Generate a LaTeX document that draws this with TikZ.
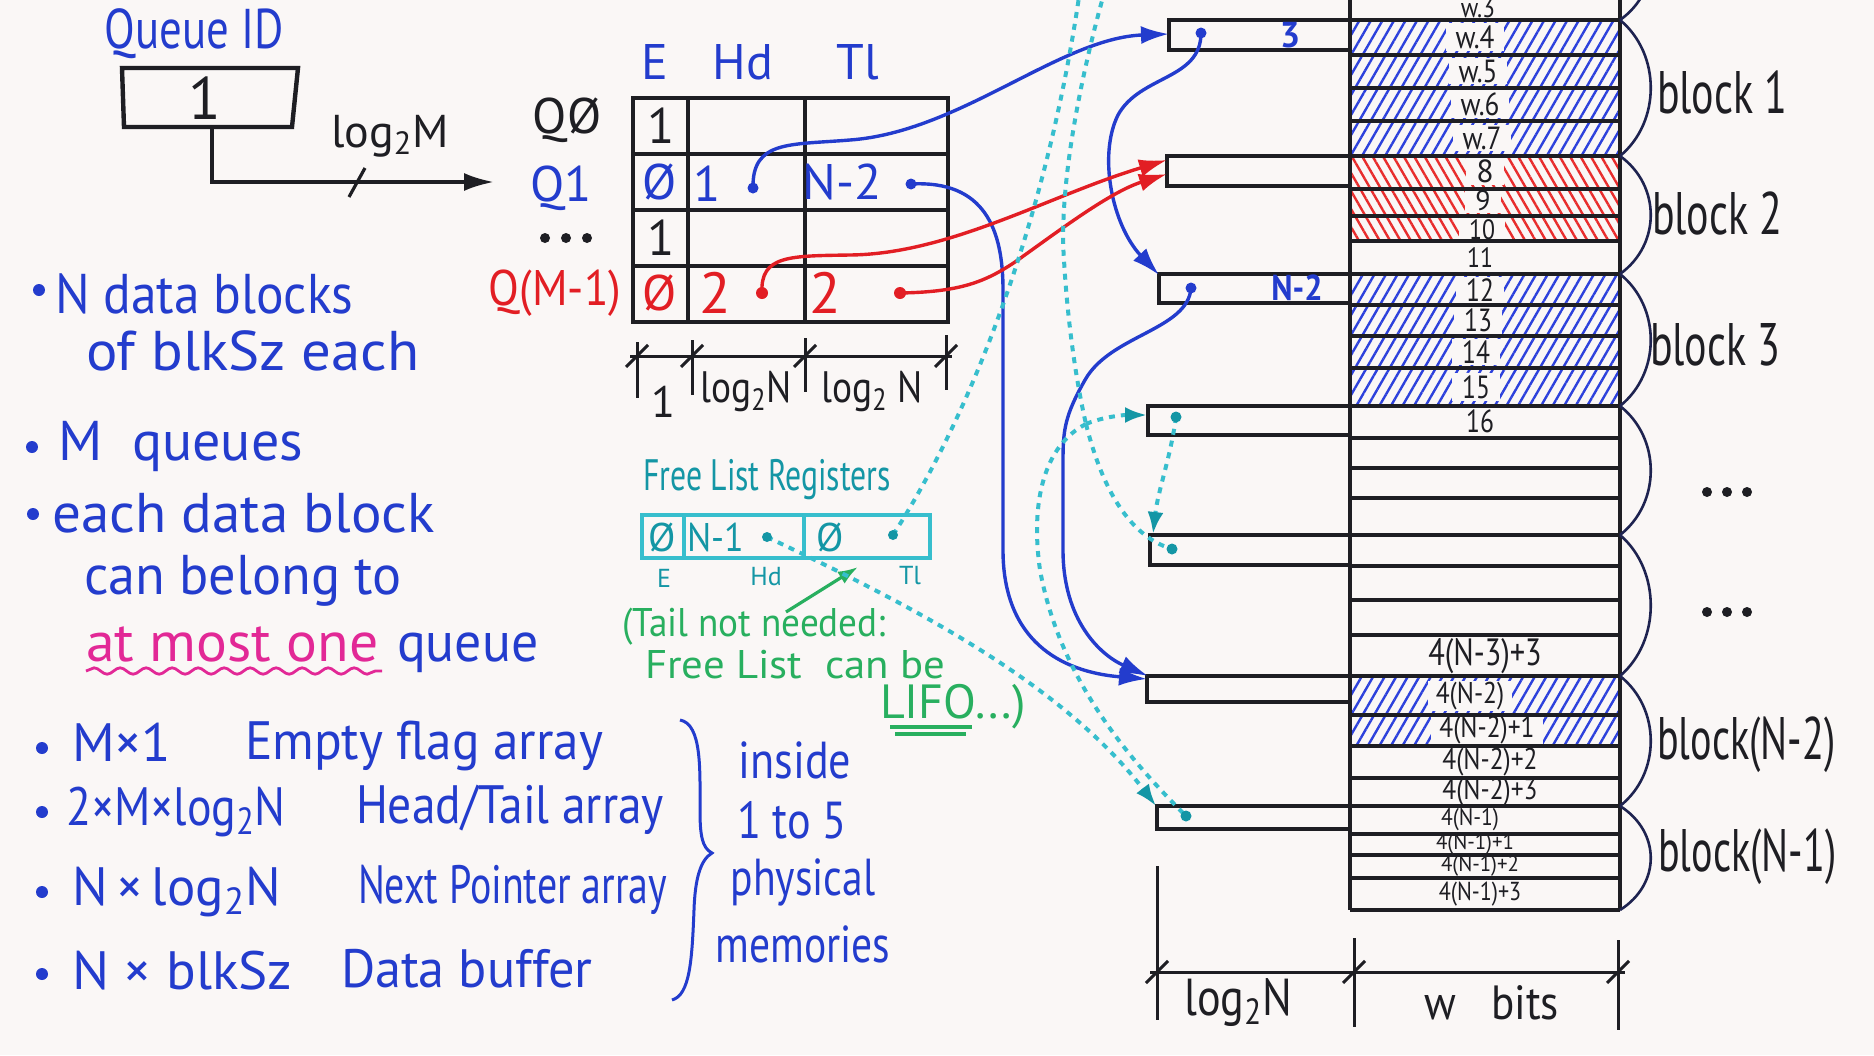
\documentclass[tikz,border=0pt]{standalone}
\usepackage{fontspec}
\setmainfont{PT Sans}
\usepackage{graphicx}
\usetikzlibrary{arrows.meta,patterns.meta,decorations.pathmorphing}
\definecolor{bgc}{RGB}{250,247,246}
\definecolor{qblue}{RGB}{35,60,205}
\definecolor{qred}{RGB}{226,30,36}
\definecolor{qpink}{RGB}{226,40,150}
\definecolor{qcyan}{RGB}{55,190,205}
\definecolor{qteal}{RGB}{20,150,165}
\definecolor{qgreen}{RGB}{40,175,95}
\definecolor{ink}{RGB}{30,30,35}
\definecolor{hblue}{RGB}{45,65,220}
\definecolor{hred}{RGB}{232,45,45}
\definecolor{brcol}{RGB}{30,35,80}
\newcommand\fs[1]{\fontsize{#1}{#1}\selectfont}
\newcommand\nar[2][0.8]{\scalebox{#1}[1]{#2}}
\newcommand\lgt{log\textsubscript{2}}
\tikzset{
  every node/.style={inner sep=0pt,outer sep=0pt},
  bt/.style={anchor=base west,text=qblue,font=\fs{28}},
  bt2/.style={anchor=base west,text=qblue,font=\fs{27}},
  qlab/.style={font=\fs{25}},
  hdr/.style={font=\fs{25},text=qblue},
  cell/.style={font=\fs{25}},
  grid/.style={ink,line width=2.2pt},
  dimln/.style={ink,line width=1.5pt},
  memrow/.style={ink,line width=1.6pt},
  pbox/.style={ink,line width=2pt},
  mlab/.style={font=\fs{16},text=ink,fill=bgc,inner xsep=5pt,inner ysep=1pt},
  mlabs/.style={font=\fs{15},text=ink,fill=bgc,inner xsep=4pt,inner ysep=0.5pt},
  brc/.style={brcol,line width=1.3pt},
  blk/.style={font=\fs{30},text=ink,anchor=west},
  bconn/.style={qblue,line width=1.7pt,-{Latex[length=14pt,width=9pt]}},
  rconn/.style={qred,line width=1.7pt,-{Latex[length=14pt,width=9pt]}},
  cdots/.style={qcyan,line width=2pt,dash pattern=on 3pt off 3pt},
  carr/.style={cdots,-{Latex[length=11pt,width=8pt,fill=qteal,color=qteal]}},
  hatchb/.style={pattern={Lines[angle=60,distance=5pt,line width=1.2pt]},pattern color=hblue},
  hatchr/.style={pattern={Lines[angle=-60,distance=4.5pt,line width=1.2pt]},pattern color=hred},
}
\begin{document}
\begin{tikzpicture}[x=0.5pt,y=-0.5pt]
\fill[bgc] (0,0) rectangle (1874,1055);
\useasboundingbox (0,0) rectangle (1874,1055);
\clip (0,0) rectangle (1874,1055);

% ================= Queue ID =================
\node[font=\fs{28},text=qblue] (qidlbl) at (194,34) {\nar[0.8]{Queue ID}};
\draw[ink,line width=2.2pt] (122,68) -- (298,68) -- (292,127) -- (124,127) -- cycle;
\node[font=\fs{30},text=ink] (qidv) at (205,98) {1};
\coordinate (qidb) at (212,127);
\coordinate (qend) at (494,182);
\draw[ink,line width=1.8pt,-{Latex[length=15pt,width=9pt]}] (qidb) |- (qend);
\draw[ink,line width=1.6pt] (349,197) -- (365,168);
\node[font=\fs{23},text=ink] (lgm) at (390,136) {\lgt M};

% ================= Queue table =================
\node[qlab,text=ink] (q0) at (567,120) {QØ};
\node[qlab,text=qblue] (q1) at (561,188) {Q1};
\fill[ink] (545,238) circle[radius=5] (566,238) circle[radius=5] (587,238) circle[radius=5];
\node[qlab,text=qred] (qm) at (555,293) {\nar[0.9]{Q(M-1)}};

\node[hdr] (hE) at (655,62) {E};
\node[hdr] (hH) at (743,62) {Hd};
\node[hdr] (hT) at (858,62) {Tl};

\draw[grid] (633,98) rectangle (948,322);
\draw[grid] (633,154) -- (948,154) (633,210) -- (948,210) (633,266) -- (948,266)
            (688,98) -- (688,322) (805,98) -- (805,322);

\node[cell,text=ink] (c01) at (661,126) {1};
\node[cell,text=qblue] (c11) at (660,182) {Ø};
\node[cell,text=qblue] (c12) at (707,184) {1};
\node[cell,text=qblue] (c13) at (842,182) {N-2};
\node[cell,text=ink] (c21) at (661,238) {1};
\node[cell,text=qred] (c31) at (660,293) {Ø};
\node[cell,text=qred,font=\fs{29}] (c32) at (715,293) {2};
\node[cell,text=qred,font=\fs{29}] (c33) at (825,293) {2};
\coordinate (d1h) at (753,188);
\coordinate (d1t) at (911,184);
\coordinate (d3h) at (762,293);
\coordinate (d3t) at (900,293);

% dimension under table
\draw[dimln] (630,356) -- (952,356);
\draw[dimln] (637,342) -- (637,398) (692,340) -- (692,395) (805,338) -- (805,392) (946,335) -- (946,390);
\draw[dimln] (626,367) -- (648,345) (681,367) -- (703,345) (794,367) -- (816,345) (935,367) -- (957,345);
\node[font=\fs{22},text=ink] (dl1) at (663,402) {1};
\node[font=\fs{22},text=ink] (dl2) at (746,392) {\nar[0.85]{\lgt N}};
\node[font=\fs{22},text=ink] (dl3) at (872,392) {\nar[0.85]{\lgt\ N}};

% ================= Free list registers =================
\node[font=\fs{22},text=qteal] (flt) at (767,480) {\nar[0.72]{Free List Registers}};
\draw[qcyan,line width=2.2pt] (642,515) rectangle (930,558) (684,515) -- (684,558) (804,515) -- (804,558);
\node[font=\fs{20},text=qteal] (fl1) at (662,537) {Ø};
\node[font=\fs{20},text=qteal] (fl2) at (716,537) {\nar[0.9]{N-1}};
\node[font=\fs{20},text=qteal] (fl3) at (830,537) {Ø};
\coordinate (fld1) at (767,537);
\coordinate (fld2) at (893,535);
\node[font=\fs{13},text=qteal] (fle) at (664,578) {E};
\node[font=\fs{13},text=qteal] (flh) at (766,577) {Hd};
\node[font=\fs{13},text=qteal] (flT) at (910,576) {Tl};

\node[anchor=base west,font=\fs{20},text=qgreen] (g1) at (622,636) {\nar[0.93]{(Tail not needed:}};
\node[anchor=base west,font=\fs{20},text=qgreen] (g2) at (645,678) {\nar[1.07]{Free List\ \ can be}};
\node[anchor=base west,font=\fs{24},text=qgreen] (g3) at (880,718) {\nar[1]{LIFO...)}};
\draw[qgreen,line width=1.6pt] (890,727) -- (972,727) (895,734) -- (966,734);
\coordinate (gstart) at (786,612);
\coordinate (gend) at (858,567);
\draw[qgreen,line width=1.6pt,-{Latex[length=10pt,width=7pt]}] (gstart) -- (gend);

% ================= left bullet text =================
\fill[qblue] (39,290) circle[radius=6] (32,447) circle[radius=6] (33,514) circle[radius=6];
\node[bt] (t1) at (55,313) {\nar[0.92]{N data blocks}};
\node[bt] (t2) at (86,370) {\nar[1.05]{of blkSz each}};
\node[bt] (t3) at (58,460) {\nar[1]{M\ \ queues}};
\node[bt] (t4) at (52,532) {\nar[1.02]{each data block}};
\node[bt] (t5) at (84,594) {\nar[0.97]{can belong to}};
\node[bt,text=qpink] (t6) at (86,661) {\nar[1.03]{at most one}};
\node[bt] (t7) at (397,661) {\nar[0.96]{queue}};
\draw[qpink,line width=1.4pt,decorate,decoration={snake,amplitude=1.6pt,segment length=13pt}] (86,671) -- (382,671);

\fill[qblue] (42,748) circle[radius=6] (42,812) circle[radius=6] (42,892) circle[radius=6] (42,974) circle[radius=6];
\node[bt2] (u1a) at (72,761) {M×1};
\node[bt2] (u1b) at (245,759) {\nar[0.95]{Empty flag array}};
\node[bt2] (u2a) at (66,825) {\nar[0.85]{2×M×\lgt N}};
\node[bt2] (u2b) at (356,823) {\nar[0.88]{Head/Tail array}};
\node[bt2] (u3a) at (72,905) {\nar[0.98]{N\,×\,\lgt N}};
\node[bt2] (u3b) at (358,903) {\nar[0.74]{Next Pointer array}};
\node[bt2] (u4a) at (72,989) {\nar[1.02]{N × blkSz}};
\node[bt2] (u4b) at (341,987) {\nar[0.97]{Data buffer}};
\draw[qblue,line width=1.5pt] (680,720) .. controls (702,724) and (700,770) .. (700,810)
   .. controls (700,835) and (702,848) .. (712,853)
   .. controls (700,860) and (695,880) .. (694,910)
   .. controls (692,960) and (690,995) .. (672,1000);
\node[font=\fs{26},text=qblue] (r1) at (795,760) {\nar[0.85]{inside}};
\node[font=\fs{26},text=qblue] (r2) at (792,820) {\nar[0.85]{1 to 5}};
\node[font=\fs{26},text=qblue] (r3) at (803,882) {\nar[0.8]{physical}};
\node[font=\fs{26},text=qblue] (r4) at (803,944) {\nar[0.8]{memories}};

% ================= memory =================
\fill[hatchb] (1350,20) rectangle (1620,156);
\fill[hatchr] (1350,156) rectangle (1620,241);
\fill[hatchb] (1350,274) rectangle (1620,406);
\fill[hatchb] (1350,676) rectangle (1620,746);

\node[mlab,font=\fs{14}] (m3) at (1478,8) {\nar[0.85]{w.3}};
\node[mlab] (m4) at (1475,37) {\nar[0.85]{w.4}};
\node[mlab] (m5) at (1478,71) {\nar[0.85]{w.5}};
\node[mlab] (m6) at (1480,104) {\nar[0.85]{w.6}};
\node[mlab] (m7) at (1482,138) {\nar[0.85]{w.7}};
\node[mlab] (m8) at (1485,171) {8};
\node[mlab,font=\fs{14}] (m9) at (1483,201) {9};
\node[mlab,font=\fs{14}] (m10) at (1482,230) {\nar[0.85]{10}};
\node[mlab,font=\fs{14}] (m11) at (1480,258) {\nar[0.85]{11}};
\node[mlab] (m12) at (1480,290) {\nar[0.8]{12}};
\node[mlab] (m13) at (1478,320) {\nar[0.8]{13}};
\node[mlab] (m14) at (1476,352) {\nar[0.8]{14}};
\node[mlab] (m15) at (1476,387) {\nar[0.8]{15}};
\node[mlab] (m16) at (1480,421) {\nar[0.8]{16}};
\node[mlab,font=\fs{19}] (m53) at (1485,656) {\nar[0.8]{4(N-3)+3}};
\node[mlabs] (n0) at (1470,696) {\nar[0.85]{4(N-2)}};
\node[mlabs] (n1) at (1487,730) {\nar[0.85]{4(N-2)+1}};
\node[mlabs] (n2) at (1490,762) {\nar[0.85]{4(N-2)+2}};
\node[mlabs] (n3) at (1490,792) {\nar[0.85]{4(N-2)+3}};
\node[mlabs,font=\fs{12}] (k0) at (1470,820) {\nar[0.9]{4(N-1)}};
\node[mlabs,font=\fs{11}] (k1) at (1475,844) {\nar[0.95]{4(N-1)+1}};
\node[mlabs,font=\fs{11}] (k2) at (1480,866) {\nar[0.95]{4(N-1)+2}};
\node[mlabs,font=\fs{13}] (k3) at (1480,894) {\nar[0.85]{4(N-1)+3}};

\draw[memrow] (1350,-5) -- (1350,910) (1620,-5) -- (1620,910);
\foreach \yy in {20,55,88,121,156,189,216,241,274,305,336,368,406,438,468,498,535,566,600,635,676,715,746,778,806,834,855,878,910}
  \draw[memrow] (1350,\yy) -- (1620,\yy);

% pointer boxes
\draw[pbox] (1169,20) rectangle (1350,50);
\draw[pbox] (1167,156) rectangle (1350,186);
\draw[pbox] (1159,274) rectangle (1350,303);
\draw[pbox] (1148,406) rectangle (1350,435);
\draw[pbox] (1150,535) rectangle (1350,565);
\draw[pbox] (1147,676) rectangle (1350,702);
\draw[pbox] (1157,806) rectangle (1350,829);
\node[font=\bfseries\fs{18},text=qblue] (pv1) at (1290,35) {3};
\node[font=\bfseries\fs{18},text=qblue] (pv3) at (1297,288) {\nar[0.9]{N-2}};
\coordinate (p1w) at (1169,34);
\coordinate (p1d) at (1201,33);
\coordinate (p2a) at (1167,160);
\coordinate (p2b) at (1167,174);
\coordinate (p3c) at (1159,275);
\coordinate (p3d) at (1191,288);
\coordinate (p4w) at (1147,415);
\coordinate (p4d) at (1176,417);
\coordinate (p5c) at (1153,534);
\coordinate (p5d) at (1172,549);
\coordinate (p6a) at (1147,679);
\coordinate (p6b) at (1148,676);
\coordinate (p7c) at (1156,806);
\coordinate (p7d) at (1186,816);

% braces
\draw[brc] (1620,20) .. controls (1662,-10) and (1662,-70) .. (1620,-100);
\foreach \a/\b in {20/156,156/274,274/406,406/535,535/676,676/806,806/910}
  \draw[brc] (1620,\a) .. controls (1661,{\a+(\b-\a)/4}) and (1661,{\b-(\b-\a)/4}) .. (1620,\b);
\node[blk] (b1) at (1657,92) {\nar[0.7]{block 1}};
\node[blk] (b2) at (1652,213) {\nar[0.7]{block 2}};
\node[blk] (b3) at (1650,345) {\nar[0.7]{block 3}};
\fill[ink] (1707,492) circle[radius=5] (1727,492) circle[radius=5] (1747,492) circle[radius=5];
\fill[ink] (1707,612) circle[radius=5] (1727,612) circle[radius=5] (1747,612) circle[radius=5];
\node[blk] (b4) at (1657,745) {\nar[0.67]{block(N-2)}};
\node[blk] (b5) at (1658,857) {\nar[0.67]{block(N-1)}};

% bottom dimension
\draw[dimln] (1157,866) -- (1157,1020) (1354,938) -- (1354,1027) (1618,940) -- (1618,1030);
\draw[dimln] (1150,972) -- (1625,972);
\draw[dimln] (1146,983) -- (1168,961) (1343,983) -- (1365,961) (1607,983) -- (1629,961);
\node[font=\fs{26},text=ink] (bl1) at (1238,1003) {\nar[0.85]{\lgt N}};
\node[font=\fs{24},text=ink] (bl2) at (1492,1003) {\nar[0.9]{w\ \ \ bits}};

% ================= connectors =================
\draw[bconn] (d1h) .. controls (752,140) and (790,145) .. (850,140)
   .. controls (960,132) and (1060,38) .. (p1w);
\draw[bconn] (d1t) .. controls (985,180) and (1003,230) .. (1003,290) -- (1003,550)
   .. controls (1003,640) and (1060,672) .. (p6a);
\draw[bconn] (p1d) .. controls (1201,80) and (1140,75) .. (1118,115)
   .. controls (1098,155) and (1112,225) .. (p3c);
\draw[bconn] (p3d) .. controls (1188,330) and (1110,335) .. (1085,380)
   .. controls (1065,415) and (1063,430) .. (1063,460) -- (1063,550)
   .. controls (1063,620) and (1100,655) .. (p6b);
\draw[rconn] (d3h) .. controls (760,255) and (790,256) .. (850,255)
   .. controls (950,254) and (1050,195) .. (p2a);
\draw[rconn] (d3t) .. controls (960,292) and (985,282) .. (1015,262)
   .. controls (1060,230) and (1110,192) .. (p2b);

\coordinate (c1top) at (1080,-10);
\coordinate (c2top) at (1105,-10);
\coordinate (cj) at (1086,424);
\draw[cdots] (fld2) .. controls (980,400) and (1050,200) .. (c1top);
\draw[cdots] (c2top) .. controls (1085,60) and (1058,180) .. (1064,260)
   .. controls (1068,330) and (1078,390) .. (cj);
\draw[carr] (cj) .. controls (1100,418) and (1120,415) .. (p4w);
\draw[cdots] (cj) .. controls (1100,480) and (1125,535) .. (p5d);
\draw[cdots] (cj) .. controls (1045,445) and (1030,500) .. (1040,570)
   .. controls (1060,680) and (1130,760) .. (p7d);
\draw[carr] (fld1) .. controls (900,600) and (1060,680) .. (p7c);
\draw[carr] (p4d) .. controls (1170,460) and (1158,490) .. (p5c);

% dots
\fill[qblue] (d1h) circle[radius=5.5] (d1t) circle[radius=5.5] (p1d) circle[radius=5.5] (p3d) circle[radius=5.5];
\fill[qred] (d3h) circle[radius=6] (d3t) circle[radius=6];
\fill[qteal] (fld1) circle[radius=5] (fld2) circle[radius=5] (p4d) circle[radius=5.5] (p5d) circle[radius=5.5] (p7d) circle[radius=5.5];
\end{tikzpicture}
\end{document}
